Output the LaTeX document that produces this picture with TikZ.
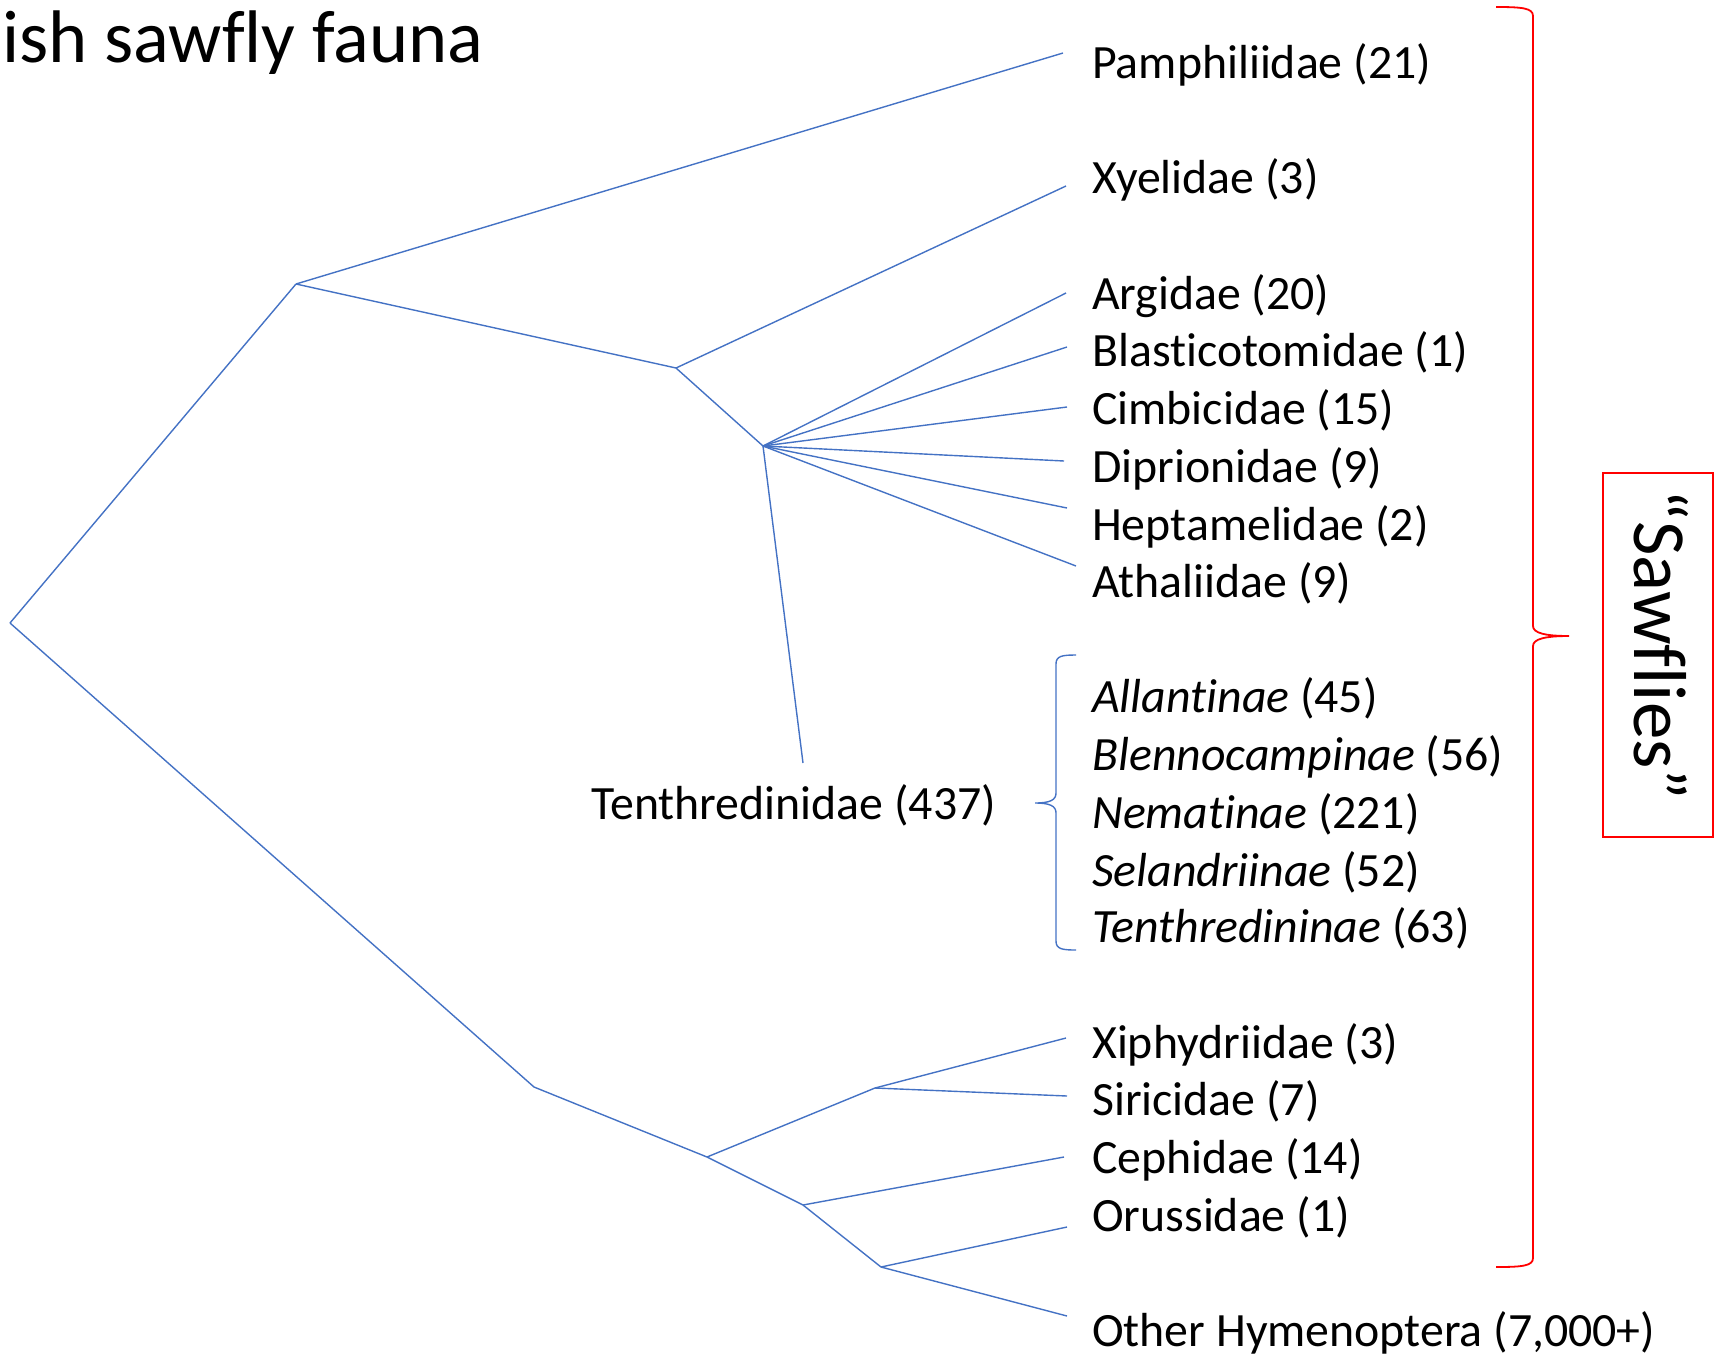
\documentclass[tikz,border=0pt]{standalone}
\usepackage{fontspec}
\setmainfont{Carlito}[Ligatures={NoCommon}]
\definecolor{treeblue}{RGB}{68,114,196}
\definecolor{bracered}{RGB}{255,0,0}
\begin{document}
\begin{tikzpicture}[x=1pt,y=-1pt,
  branch/.style={draw=treeblue, line width=1.4pt},
  redline/.style={draw=bracered, line width=1.8pt},
  lab/.style={anchor=base west, inner sep=0pt, font=\fontsize{47.8}{58}\selectfont},
]
\useasboundingbox (0,0) rectangle (1715,1355);

% title
\node[anchor=base west, inner sep=0pt, font=\fontsize{74.5}{80}\selectfont] (title) at (2,62) {ish sawfly fauna};

% internal nodes
\coordinate (root) at (10,623);
\coordinate (nA) at (296,284);
\coordinate (nB) at (676,368);
\coordinate (nC) at (763,446);
\coordinate (nD) at (534,1087);
\coordinate (nE) at (707,1157);
\coordinate (nF) at (875,1088);
\coordinate (nG) at (803,1205);
\coordinate (nH) at (881,1267);

% leaf ends
\coordinate (ePam) at (1063,53);
\coordinate (eXye) at (1066,186);
\coordinate (eArg) at (1066,293);
\coordinate (eBla) at (1067,347);
\coordinate (eCim) at (1067,407);
\coordinate (eDip) at (1064,461);
\coordinate (eHep) at (1067,508);
\coordinate (eAth) at (1076,566);
\coordinate (eTen) at (803,763);
\coordinate (eXip) at (1066,1038);
\coordinate (eSir) at (1067,1096);
\coordinate (eCep) at (1064,1157);
\coordinate (eOru) at (1067,1227);
\coordinate (eOth) at (1067,1316);

% labels
\node[lab] (lPam) at (1092,78) {Pamphiliidae (21)};
\node[lab] (lXye) at (1092,193) {Xyelidae (3)};
\node[lab] (lArg) at (1092,309) {Argidae (20)};
\node[lab] (lBla) at (1092,366) {Blasticotomidae (1)};
\node[lab] (lCim) at (1092,424) {Cimbicidae (15)};
\node[lab] (lDip) at (1092,482) {Diprionidae (9)};
\node[lab] (lHep) at (1092,540) {Heptamelidae (2)};
\node[lab] (lAth) at (1092,597) {Athaliidae (9)};
\node[lab] (lAll) at (1092,712) {\textit{Allantinae} (45)};
\node[lab] (lBle) at (1092,770) {\textit{Blennocampinae} (56)};
\node[lab] (lNem) at (1092,828) {\textit{Nematinae} (221)};
\node[lab] (lSel) at (1092,886) {\textit{Selandriinae} (52)};
\node[lab] (lTnn) at (1092,942) {\textit{Tenthredininae} (63)};
\node[lab] (lXip) at (1092,1058) {Xiphydriidae (3)};
\node[lab] (lSir) at (1092,1115) {Siricidae (7)};
\node[lab] (lCep) at (1092,1173) {Cephidae (14)};
\node[lab] (lOru) at (1092,1231) {Orussidae (1)};
\node[lab] (lOth) at (1092,1346) {Other Hymenoptera (7,000+)};
\node[lab] (lTen) at (591,819) {Tenthredinidae (437)};

% tree branches
\draw[branch] (root) -- (nA);
\draw[branch] (nA) -- (ePam);
\draw[branch] (nA) -- (nB);
\draw[branch] (nB) -- (eXye);
\draw[branch] (nB) -- (nC);
\draw[branch] (nC) -- (eArg);
\draw[branch] (nC) -- (eBla);
\draw[branch] (nC) -- (eCim);
\draw[branch] (nC) -- (eDip);
\draw[branch] (nC) -- (eHep);
\draw[branch] (nC) -- (eAth);
\draw[branch] (nC) -- (eTen);
\draw[branch] (root) -- (nD);
\draw[branch] (nD) -- (nE);
\draw[branch] (nE) -- (nF);
\draw[branch] (nF) -- (eXip);
\draw[branch] (nF) -- (eSir);
\draw[branch] (nE) -- (nG);
\draw[branch] (nG) -- (eCep);
\draw[branch] (nG) -- (nH);
\draw[branch] (nH) -- (eOru);
\draw[branch] (nH) -- (eOth);

% blue brace (Tenthredinidae subfamilies)
\coordinate (bTop) at (1076,655);
\coordinate (bTip) at (1035,803);
\coordinate (bBot) at (1076,950);
\draw[branch] (bTop) .. controls (1062,655) and (1056,656) .. (1056,664)
  -- (1056,793) .. controls (1056,800) and (1050,803) .. (bTip)
  .. controls (1050,803) and (1056,806) .. (1056,813)
  -- (1056,941) .. controls (1056,949) and (1062,950) .. (bBot);

% red brace (Sawflies)
\coordinate (rTop) at (1496,7);
\coordinate (rTip) at (1569,636);
\coordinate (rBot) at (1496,1267);
\draw[redline] (rTop) .. controls (1522,7) and (1533,8) .. (1533,16)
  -- (1533,626) .. controls (1533,633) and (1545,636) .. (rTip)
  .. controls (1545,636) and (1533,639) .. (1533,646)
  -- (1533,1258) .. controls (1533,1266) and (1522,1267) .. (rBot);

% Sawflies box
\node[draw=bracered, line width=1.8pt, minimum width=110pt, minimum height=364pt, inner sep=0pt] (box) at (1658,655) {};
\node[rotate=-90, anchor=base, inner sep=0pt, font=\fontsize{75}{80}\selectfont] (saw) at (1634,645) {“Sawflies”};
\end{tikzpicture}
\end{document}
